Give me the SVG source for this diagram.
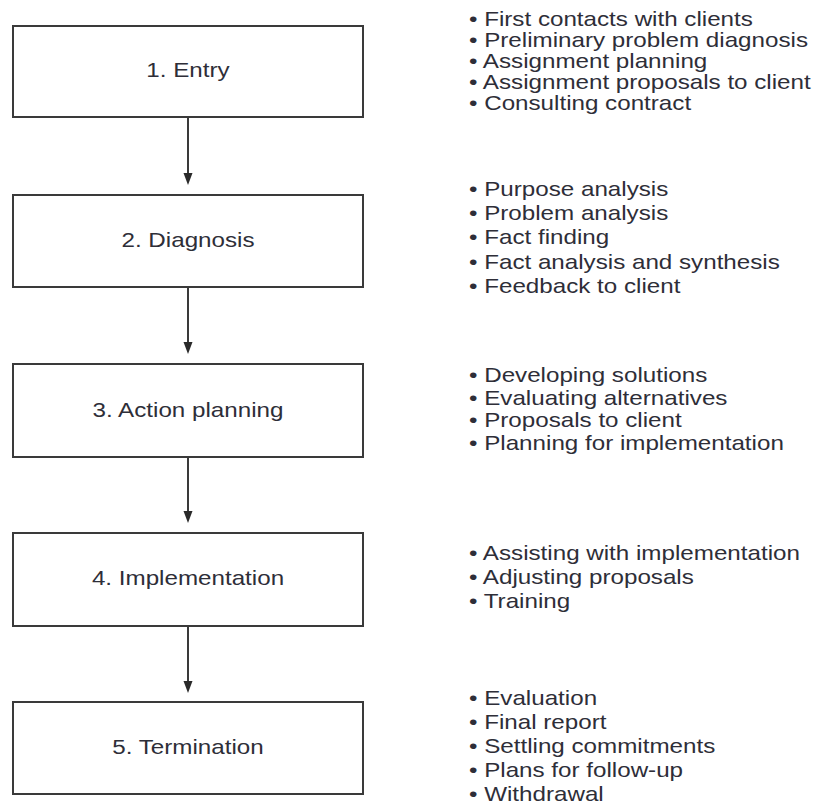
<svg xmlns="http://www.w3.org/2000/svg" width="816" height="804" viewBox="0 0 816 804">
<defs>
<style>
.box{fill:#fff;stroke:#3a3a3a;stroke-width:2}
.lbl{font-family:"Liberation Sans",Arial,sans-serif;font-size:20.5px;fill:#2e2e38;text-anchor:middle}
.item{font-family:"Liberation Sans",Arial,sans-serif;font-size:20.5px;fill:#2e2e38}
.conn{stroke:#3a3a3a;stroke-width:2;fill:none}
</style>
<marker id="arr" viewBox="0 0 10 12" refX="5" refY="12" markerWidth="10" markerHeight="12" markerUnits="userSpaceOnUse" orient="auto-start-reverse">
<path d="M0,0 L10,0 L5,12 Z" fill="#2a2a2a"/>
</marker>
</defs>
<rect width="816" height="804" fill="#fff"/>
<g id="n1">
<rect class="box" x="13" y="26" width="350" height="91"/>
<g transform="translate(188,0) scale(1.18,1)"><text class="lbl" x="0" y="77">1. Entry</text></g>
</g>
<g id="n2">
<rect class="box" x="13" y="195" width="350" height="92"/>
<g transform="translate(188,0) scale(1.18,1)"><text class="lbl" x="0" y="247">2. Diagnosis</text></g>
</g>
<g id="n3">
<rect class="box" x="13" y="364" width="350" height="93"/>
<g transform="translate(188,0) scale(1.18,1)"><text class="lbl" x="0" y="417">3. Action planning</text></g>
</g>
<g id="n4">
<rect class="box" x="13" y="533" width="350" height="93"/>
<g transform="translate(188,0) scale(1.18,1)"><text class="lbl" x="0" y="585">4. Implementation</text></g>
</g>
<g id="n5">
<rect class="box" x="13" y="702" width="350" height="92"/>
<g transform="translate(188,0) scale(1.18,1)"><text class="lbl" x="0" y="754">5. Termination</text></g>
</g>
<g id="connectors">
<line class="conn" x1="188" y1="117" x2="188" y2="173"/>
<path d="M183.5,173 L192.5,173 L188,185 Z" fill="#2a2a2a"/>
<line class="conn" x1="188" y1="287" x2="188" y2="342"/>
<path d="M183.5,342 L192.5,342 L188,354 Z" fill="#2a2a2a"/>
<line class="conn" x1="188" y1="457" x2="188" y2="511"/>
<path d="M183.5,511 L192.5,511 L188,523 Z" fill="#2a2a2a"/>
<line class="conn" x1="188" y1="626" x2="188" y2="681"/>
<path d="M183.5,681 L192.5,681 L188,693 Z" fill="#2a2a2a"/>
</g>
<g id="list1" transform="translate(469,0) scale(1.18,1)">
<text class="item" x="0" y="26">• First contacts with clients</text>
<text class="item" x="0" y="47">• Preliminary problem diagnosis</text>
<text class="item" x="0" y="68">• Assignment planning</text>
<text class="item" x="0" y="89">• Assignment proposals to client</text>
<text class="item" x="0" y="110">• Consulting contract</text>
</g>
<g id="list2" transform="translate(469,0) scale(1.18,1)">
<text class="item" x="0" y="196">• Purpose analysis</text>
<text class="item" x="0" y="220">• Problem analysis</text>
<text class="item" x="0" y="244">• Fact finding</text>
<text class="item" x="0" y="269">• Fact analysis and synthesis</text>
<text class="item" x="0" y="293">• Feedback to client</text>
</g>
<g id="list3" transform="translate(469,0) scale(1.18,1)">
<text class="item" x="0" y="382">• Developing solutions</text>
<text class="item" x="0" y="405">• Evaluating alternatives</text>
<text class="item" x="0" y="427">• Proposals to client</text>
<text class="item" x="0" y="450">• Planning for implementation</text>
</g>
<g id="list4" transform="translate(469,0) scale(1.18,1)">
<text class="item" x="0" y="560">• Assisting with implementation</text>
<text class="item" x="0" y="584">• Adjusting proposals</text>
<text class="item" x="0" y="608">• Training</text>
</g>
<g id="list5" transform="translate(469,0) scale(1.18,1)">
<text class="item" x="0" y="705">• Evaluation</text>
<text class="item" x="0" y="729">• Final report</text>
<text class="item" x="0" y="753">• Settling commitments</text>
<text class="item" x="0" y="777">• Plans for follow-up</text>
<text class="item" x="0" y="801">• Withdrawal</text>
</g>
</svg>
